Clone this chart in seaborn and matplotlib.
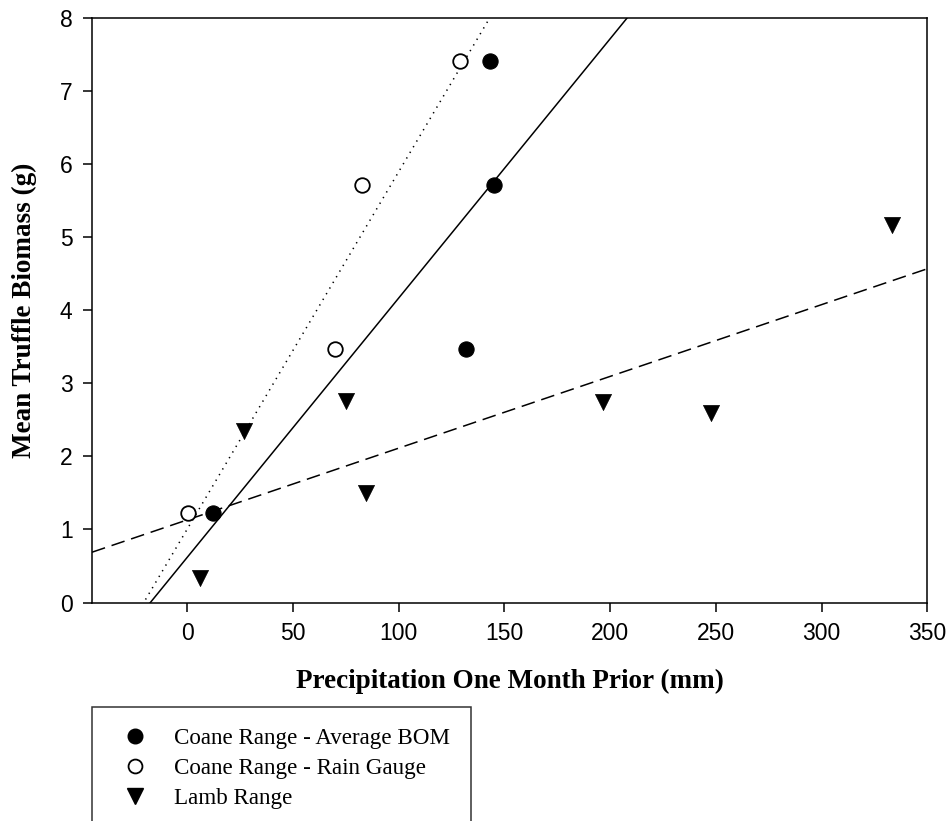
import numpy as np
import pandas as pd
import matplotlib
matplotlib.use("Agg")
import matplotlib.pyplot as plt
import seaborn as sns
from matplotlib.lines import Line2D

# ---- data ----
bom_x = [12.4, 143.4, 145.1, 131.7]
bom_y = [1.22, 7.42, 5.72, 3.47]
gauge_x = [0.3, 82.8, 70.0, 129.2]
gauge_y = [1.22, 5.72, 3.47, 7.42]
lamb_x = [6.2, 26.8, 74.9, 84.7, 196.7, 247.7, 333.3]
lamb_y = [0.33, 2.35, 2.76, 1.50, 2.74, 2.60, 5.17]

x_ticks = [0, 50, 100, 150, 200, 250, 300, 350]
y_ticks = [0, 1, 2, 3, 4, 5, 6, 7, 8]
labels = ["Coane Range - Average BOM", "Coane Range - Rain Gauge", "Lamb Range"]

sns.set_theme(style="ticks")
plt.rcParams["font.family"] = ["Liberation Sans", "DejaVu Sans"]

fig = plt.figure(figsize=(9.5, 8.21), dpi=100)
ax = fig.add_axes([92 / 950, 1 - 602.5 / 821, (927.3 - 92) / 950, (602.5 - 18.3) / 821])
ax.set_xlim(-45, 350)
ax.set_ylim(0, 8)

df_bom = pd.DataFrame({"x": bom_x, "y": bom_y})
df_gauge = pd.DataFrame({"x": gauge_x, "y": gauge_y})
df_lamb = pd.DataFrame({"x": lamb_x, "y": lamb_y})

lw = 1.1
sns.regplot(data=df_bom, x="x", y="y", ax=ax, scatter=False, ci=None, truncate=False,
            line_kws=dict(color="black", lw=lw, linestyle="-", zorder=2))
sns.regplot(data=df_gauge, x="x", y="y", ax=ax, scatter=False, ci=None, truncate=False,
            line_kws=dict(color="black", lw=1.1, linestyle=(0, (0.9, 3.4)), zorder=2))
sns.regplot(data=df_lamb, x="x", y="y", ax=ax, scatter=False, ci=None, truncate=False,
            line_kws=dict(color="black", lw=lw, linestyle=(0, (9, 4.5)), zorder=2))

sns.scatterplot(data=df_bom, x="x", y="y", ax=ax, marker="o", s=120, color="black",
                edgecolor="black", linewidth=0.8, zorder=3)
sns.scatterplot(data=df_gauge, x="x", y="y", ax=ax, marker="o", s=110, facecolor="white",
                edgecolor="black", linewidth=1.3, zorder=3)
sns.scatterplot(data=df_lamb, x="x", y="y", ax=ax, marker="v", s=135, color="black",
                edgecolor="black", linewidth=0.5, zorder=3)

ax.set_xlim(-45, 350)
ax.set_ylim(0, 8)
ax.set_xticks(x_ticks)
ax.set_yticks(y_ticks)
ax.tick_params(axis="both", which="major", direction="out", length=6.5, width=1.1,
               color="black", labelsize=16.5, labelcolor="black", pad=7.5)
ax.tick_params(top=False, right=False)
for sp in ax.spines.values():
    sp.set_visible(True)
    sp.set_linewidth(1.1)
    sp.set_color("black")

lab_font = dict(family=["Liberation Serif", "DejaVu Serif"], weight="bold", size=19.5, color="black")
ax.set_xlabel("Precipitation One Month Prior (mm)", **lab_font)
ax.set_ylabel("Mean Truffle Biomass (g)", **lab_font)
ax.xaxis.set_label_coords(0.5, -0.114)
ax.yaxis.set_label_coords(-0.066, 0.5)

handles = [
    Line2D([], [], linestyle="none", marker="o", markersize=10.5, markerfacecolor="black",
           markeredgecolor="black"),
    Line2D([], [], linestyle="none", marker="o", markersize=10, markerfacecolor="white",
           markeredgecolor="black", markeredgewidth=1.3),
    Line2D([], [], linestyle="none", marker="v", markersize=11, markerfacecolor="black",
           markeredgecolor="black"),
]
leg = fig.legend(handles, labels, loc="upper left",
                 bbox_to_anchor=(92.3 / 950, 1 - 706.7 / 821), bbox_transform=fig.transFigure,
                 borderaxespad=0, frameon=True, fancybox=False, edgecolor="black",
                 prop=dict(family=["Liberation Serif", "DejaVu Serif"], size=16.6),
                 handlelength=1.91, handletextpad=0.73, borderpad=0.9, labelspacing=0.39)
leg.get_frame().set_linewidth(1.1)
for t in leg.get_texts():
    t.set_color("black")

fig.savefig("out.png", dpi=100, facecolor="white")
